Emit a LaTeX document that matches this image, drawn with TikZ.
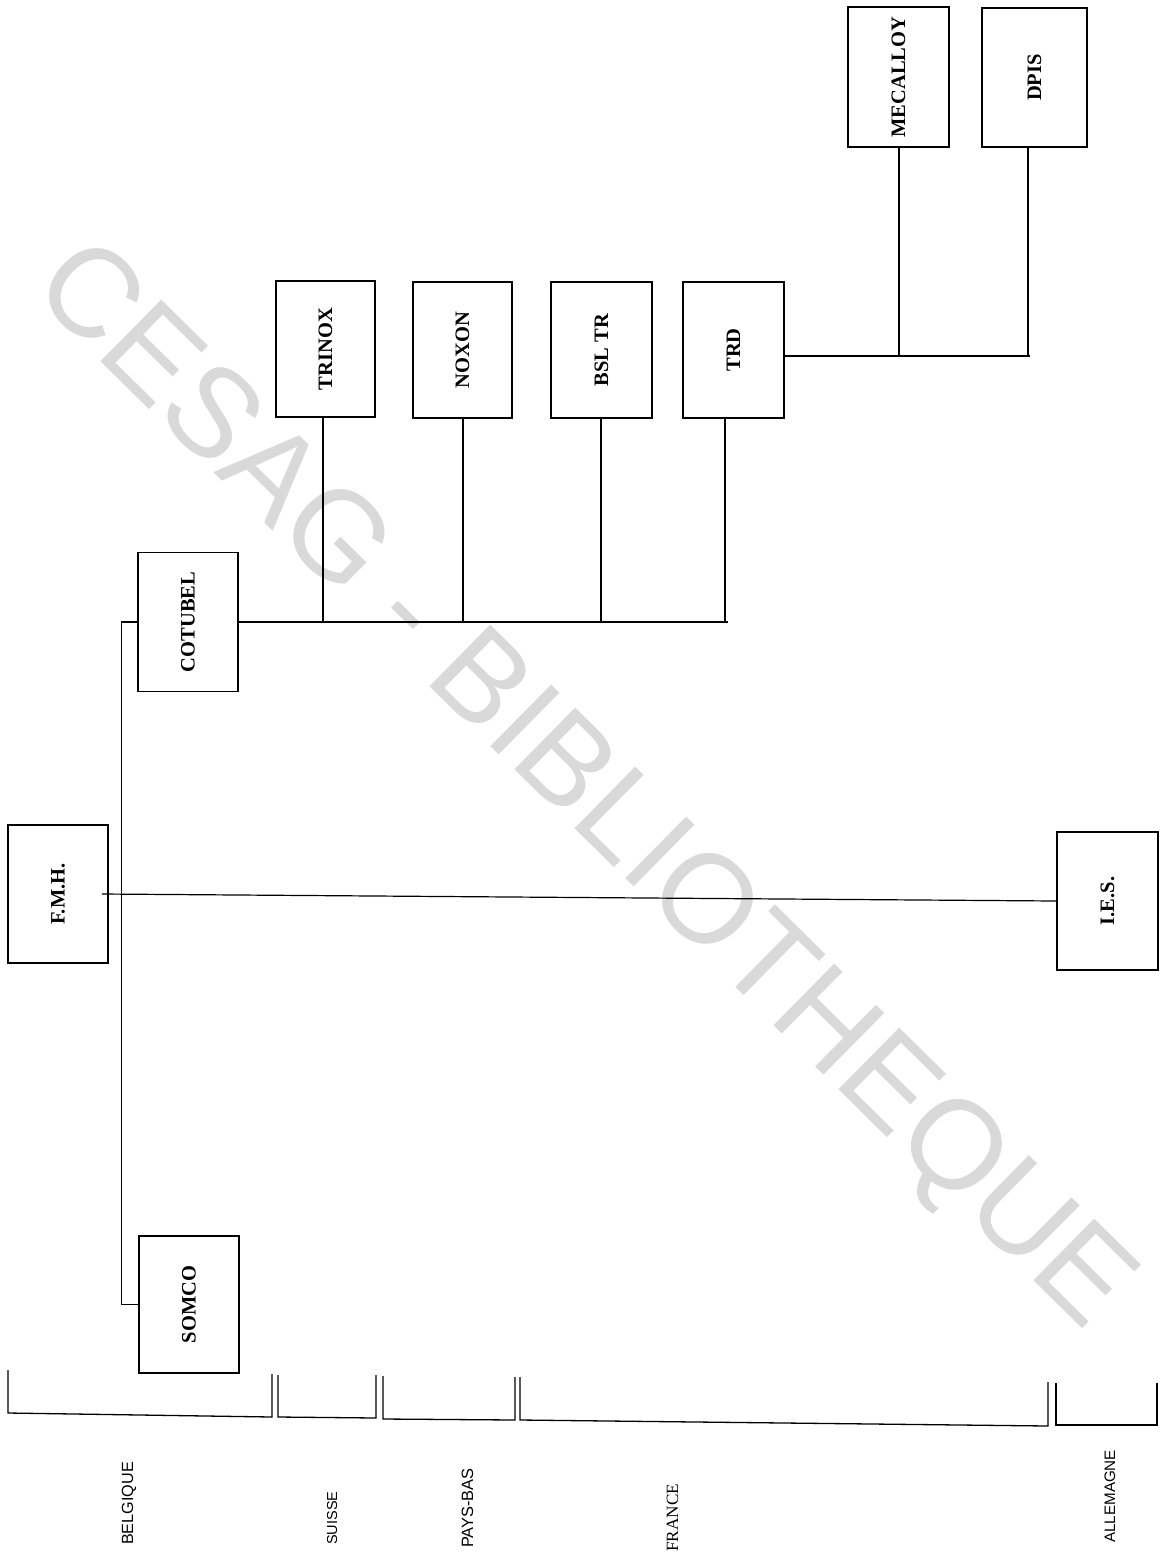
\documentclass[tikz,border=0pt]{standalone}
\usepackage{fontspec}
\setmainfont{Liberation Serif}
\newfontfamily\sansf{Liberation Sans}
\usepackage{graphicx}
\tikzset{
  orgbox/.style={draw, line width=1.6pt, inner sep=0pt, minimum width=100pt, minimum height=138pt,
    font=\fontsize{20.5}{20.5}\selectfont\bfseries},
  link/.style={line width=1.2pt},
  bracket/.style={line width=1.3pt},
  country/.style={rotate=90, anchor=base west, inner sep=0pt},
}
\begin{document}
\begin{tikzpicture}[x=1pt,y=-1pt]
\useasboundingbox (0,0) rectangle (1162,1559);
% watermark
\node[font=\sansf\fontsize{126}{126}\selectfont, text=black!15, rotate=-44.6] (wm) at (580,789) {CESAG - BIBLIOTHEQUE};

% boxes
\node[orgbox, minimum width=101pt, minimum height=140pt] (mec) at (898.5,77) {\rotatebox{90}{MECALLOY}};
\node[orgbox, minimum width=105pt, minimum height=139pt] (dpis) at (1034.5,77.5) {\rotatebox{90}{DPIS}};
\node[orgbox, minimum width=99pt, minimum height=136pt] (trinox) at (325.5,349) {\rotatebox{90}{TRINOX}};
\node[orgbox, minimum width=99pt, minimum height=136pt] (noxon) at (462.5,350) {\rotatebox{90}{NOXON}};
\node[orgbox, minimum width=101pt, minimum height=136pt] (bsl) at (601.5,350) {\rotatebox{90}{BSL TR}};
\node[orgbox, minimum width=101pt, minimum height=136pt] (trd) at (733.5,350) {\rotatebox{90}{TRD}};
\node[orgbox, minimum width=100pt, minimum height=139pt] (cot) at (188,622) {\rotatebox{90}{COTUBEL}};
\node[orgbox, minimum width=100pt, minimum height=138pt] (fmh) at (58,894) {\rotatebox{90}{F.M.H.}};
\node[orgbox, minimum width=101pt, minimum height=138pt] (ies) at (1107.5,901) {\rotatebox{90}{I.E.S.}};
\node[orgbox, minimum width=100pt, minimum height=137pt] (somco) at (189,1304.5) {\rotatebox{90}{SOMCO}};

% connectors
\coordinate (tbus) at (1030,356);
\draw[link] (trd.east |- tbus) -- (tbus);
\draw[link] ([xshift=0.5pt]mec.south) -- ([xshift=0.5pt]mec.south |- tbus);
\draw[link] ([xshift=-6.5pt]dpis.south) -- ([xshift=-6.5pt]dpis.south |- tbus);

\coordinate (cbus) at (728,623);
\draw[link] (cot.east) -- (cot.east -| cbus);
\draw[link] ([xshift=-2.5pt]trinox.south) -- ([xshift=-2.5pt]trinox.south |- cbus);
\draw[link] ([xshift=0.5pt]noxon.south) -- ([xshift=0.5pt]noxon.south |- cbus);
\draw[link] ([xshift=-0.5pt]bsl.south) -- ([xshift=-0.5pt]bsl.south |- cbus);
\draw[link] ([xshift=-8.5pt]trd.south) -- ([xshift=-8.5pt]trd.south |- cbus);

\draw[link] (cot.west) -- ++(-16,0) |- (somco.west);
\draw[link] ([xshift=-7pt]fmh.east) -- (ies.west);

% country brackets
\draw[bracket] (8,1370) -- (8,1413) -- (272,1417) -- (272,1374);
\draw[bracket] (278,1375) -- (278,1417) -- (376,1418) -- (376,1375);
\draw[bracket] (383,1376) -- (383,1419) -- (515,1420) -- (515,1377);
\draw[bracket] (520,1377) -- (520,1420) -- (1048,1426) -- (1048,1382);
\draw[bracket] (1056,1383) -- (1056,1425) -- (1157,1425) -- (1157,1383);

% country labels
\node[country, font=\sansf\fontsize{16.2}{16.2}\selectfont] (be) at (133,1545) {BELGIQUE};
\node[country, font=\sansf\fontsize{14.5}{14.5}\selectfont] (ch) at (337,1545) {SUISSE};
\node[country, font=\sansf\fontsize{16.4}{16.4}\selectfont] (nl) at (473,1548) {PAYS-BAS};
\node[country, font=\fontsize{17.2}{17.2}\selectfont] (fr) at (678,1552) {FRANCE};
\node[country, font=\sansf\fontsize{15.2}{15.2}\selectfont] (de) at (1115,1543) {ALLEMAGNE};
\end{tikzpicture}
\end{document}
